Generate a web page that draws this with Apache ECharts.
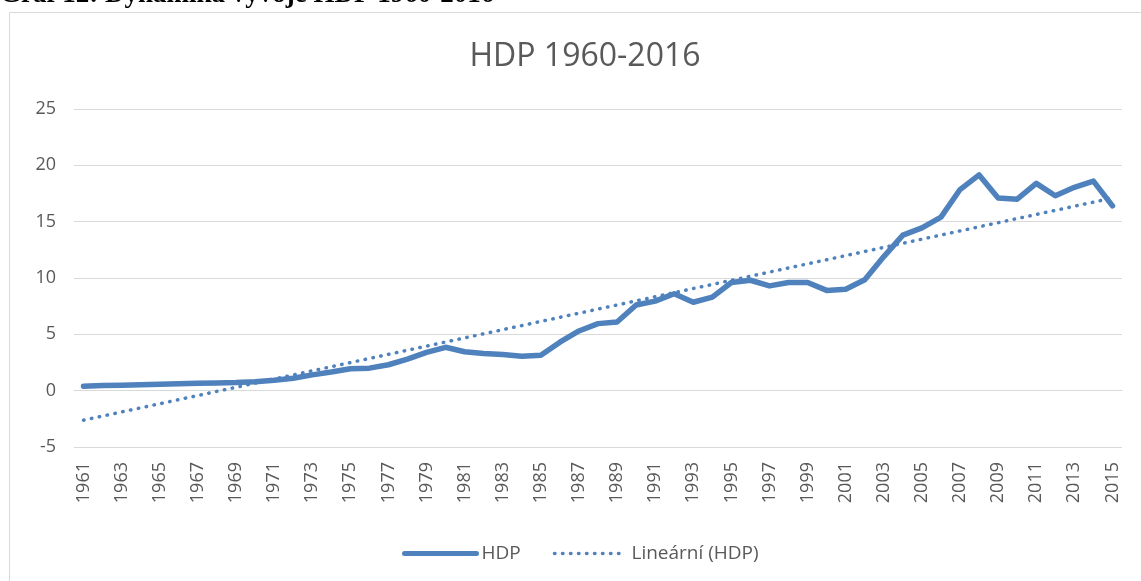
<!DOCTYPE html>
<html>
<head>
<meta charset="utf-8">
<script src="https://cdn.jsdelivr.net/npm/echarts@6/dist/echarts.min.js"></script>
<style>
html,body{margin:0;padding:0;background:#fff;}
#c{width:1141px;height:581px;}
</style>
</head>
<body>
<div id="c"></div>
<script>
const years = ['1961','1962','1963','1964','1965','1966','1967','1968','1969','1970',
'1971','1972','1973','1974','1975','1976','1977','1978','1979','1980',
'1981','1982','1983','1984','1985','1986','1987','1988','1989','1990',
'1991','1992','1993','1994','1995','1996','1997','1998','1999','2000',
'2001','2002','2003','2004','2005','2006','2007','2008','2009','2010',
'2011','2012','2013','2014','2015'];
const hdp = [0.40,0.45,0.48,0.52,0.57,0.62,0.65,0.68,0.72,0.80,
0.92,1.10,1.40,1.65,1.95,2.00,2.30,2.80,3.40,3.85,
3.45,3.30,3.20,3.05,3.15,4.30,5.30,5.95,6.10,7.60,
7.95,8.60,7.85,8.30,9.60,9.80,9.30,9.60,9.60,8.90,
9.00,9.85,11.90,13.80,14.45,15.40,17.85,19.15,17.10,17.00,
18.40,17.30,18.05,18.60,16.40];
const trendStart = -2.62;
const trendEnd = 17.10;
const yTicks = {min: -5, max: 25, interval: 5};
const titleText = 'HDP 1960-2016';
const captionText = 'Graf 12: Dynamika vývoje HDP 1960-2016';
const seriesNames = ['HDP', 'Lineární (HDP)'];

const blue = '#4f81bd';
const textColor = '#595959';
const font = 'Open Sans';
const dotDash = [0.5, 7.5];

const chart = echarts.init(document.getElementById('c'), null, {renderer: 'canvas'});
chart.setOption({
  animation: false,
  backgroundColor: '#fff',
  title: {
    text: titleText,
    left: 580, textAlign: 'center',
    top: 36,
    textStyle: {fontFamily: font, fontSize: 32, fontWeight: 'normal', color: textColor}
  },
  graphic: [
    {type: 'rect', shape: {x: 9.5, y: 12.5, width: 1200, height: 700},
     style: {fill: null, stroke: '#d9d9d9', lineWidth: 1}, silent: true, z: -1},
    {type: 'text', left: 0, top: -18,
     style: {text: captionText, font: 'bold 27px "Liberation Serif"', fill: '#000'}}
  ],
  legend: {
    left: 397, top: 539,
    itemWidth: 72, itemHeight: 14, itemGap: 32,
    itemStyle: {color: 'rgba(0,0,0,0)', borderColor: 'rgba(0,0,0,0)', borderWidth: 0},
    textStyle: {fontFamily: font, fontSize: 19, color: textColor, padding: [0,0,0,0]},
    data: [
      {name: seriesNames[0], lineStyle: {width: 5, cap: 'round', color: blue}},
      {name: seriesNames[1], lineStyle: {width: 3.5, type: dotDash, cap: 'round', color: blue}}
    ]
  },
  grid: {left: 74, right: 19, top: 109, bottom: 134, containLabel: false},
  xAxis: {
    type: 'category', data: years, boundaryGap: true,
    axisLine: {show: true, lineStyle: {color: '#d9d9d9'}},
    axisTick: {show: false},
    axisLabel: {rotate: 90, interval: 1, margin: 15, fontFamily: font, fontSize: 18, color: textColor}
  },
  yAxis: {
    type: 'value', min: yTicks.min, max: yTicks.max, interval: yTicks.interval,
    axisLine: {show: false}, axisTick: {show: false},
    splitLine: {lineStyle: {color: '#d9d9d9', width: 1}},
    axisLabel: {margin: 18, fontFamily: font, fontSize: 18, color: textColor}
  },
  series: [
    {name: seriesNames[0], type: 'line', data: hdp, symbol: 'none', smooth: false,
     lineStyle: {color: blue, width: 5.5, cap: 'round', join: 'round'},
     itemStyle: {color: blue}, z: 3},
    {name: seriesNames[1], type: 'line', symbol: 'none',
     data: [[0, trendStart], [years.length - 1, trendEnd]],
     lineStyle: {color: blue, width: 3.5, type: dotDash, cap: 'round'},
     itemStyle: {color: blue}, z: 4}
  ]
});
</script>
</body>
</html>
